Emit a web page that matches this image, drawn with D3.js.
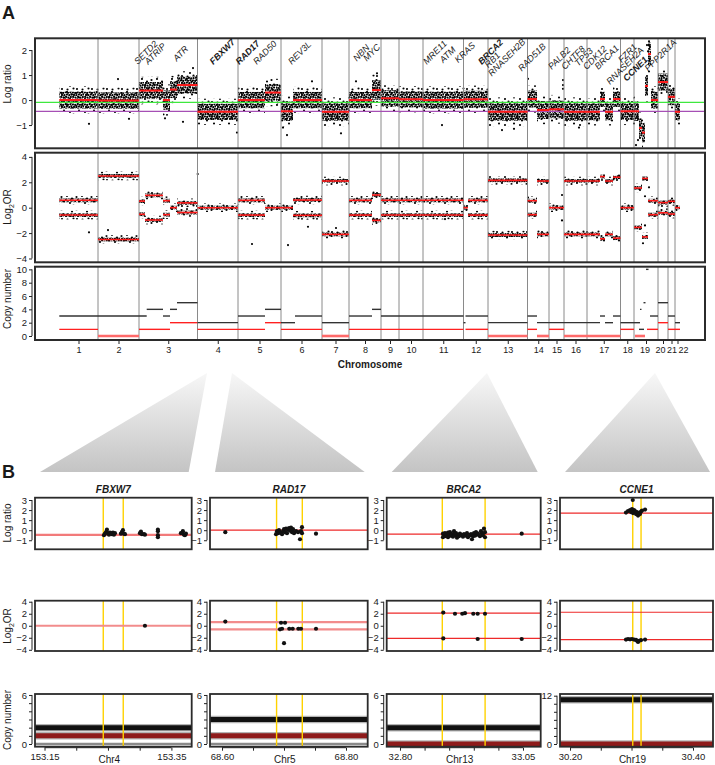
<!DOCTYPE html>
<html><head><meta charset="utf-8">
<script src="https://cdn.jsdelivr.net/npm/d3@7/dist/d3.min.js"></script>
<style>
html,body{margin:0;padding:0;background:#fff;}
text{font-family:"Liberation Sans",Arial,Helvetica,sans-serif;fill:#1a1a1a;}
</style></head><body>
<svg id="chart" width="715" height="765"></svg>
<script>
// ================= DATA =================
const chromosomes = ["1","2","3","4","5","6","7","8","9","10","11","12","13","14","15","16","17","18","19","20","21","22"];
// cumulative end of each chromosome on the genome-wide probe index axis
const chromEnds = [39,80,138.5,179,222,263,290,322,340,364,404.5,429,468.5,490,505,528,561.5,575,599,609,616,621];
const lrTicks = [-1,0,1,2];
const orTicks = [-4,-2,0,2,4];
const cnTicks = [0,2,4,6,8,10];
const lrBaseline = -0.09;   // green line
const lrLossLevel = -0.45;  // purple line
// log ratio segments: [start, end, mean, spread]
const lrSegments = [
 [0.3,39,0.0,0.22],[39,80,-0.02,0.21],
 [80,104,0.38,0.22],[104,111,0.0,0.25],[111,118,0.42,0.22],[118,138.5,0.6,0.22],
 [138.5,179,-0.47,0.21],
 [179,206,0.0,0.21],[206,222,0.3,0.22],
 [222,234,-0.45,0.25],[234,263,0.0,0.21],
 [263,290,-0.47,0.23],
 [290,313,0.0,0.21],[313,322,0.4,0.25],
 [322,340,0.07,0.21],[340,364,0.03,0.21],[364,404.5,0.0,0.22],[404.5,429,0.03,0.22],
 [429,468.5,-0.47,0.23],
 [468.5,478,0.04,0.22],[478,490,-0.4,0.23],
 [490,505,-0.37,0.23],[505,528,-0.47,0.23],
 [528,541,-0.47,0.22],[541,546,0.04,0.2],[546,554,-0.47,0.22],[554,561.5,0.04,0.2],
 [561.5,575,-0.45,0.22],
 [575,580,-0.45,0.25],[580,583,-1.12,0.25],[583,586,-1.3,0.25],[586,589,0.56,0.25],[589,592,1.84,0.3],[592,599,0.0,0.22],
 [599,609,0.72,0.22],[609,616,0.13,0.22],[616,621,-0.47,0.22]
];
const lrOutliers = [[30,-0.95],[59,0.84],[106,-0.73],[124,-0.87],[134,1.28],[178,-1.3],[228,-1.4],[224,-1.1],
 [282,-1.33],[318,1.07],[297,0.75],[383,-1.0],[469,0.85],[504,0.8],[504,0.6],[504,0.45],[577,-1.8],[579,-1.6],
 [588,2.2],[589,1.95],[590,2.35],[443,-1.2],[455,-1.15],[520,-1.1],[253,0.75],[70,-0.75]];
// log2 odds ratio segments: [start, end, |value|] (mirrored around zero)
const orSegments = [
 [0.3,39,0.58],[39,80,2.5],
 [80,86,0.52],[86,104,0.97],[104,111,0.55],[111,118,0.0],[118,138.5,0.38],
 [138.5,179,0.0],
 [179,206,0.58],[206,222,0.0],
 [222,234,0.0],[234,263,0.6],
 [263,290,2.1],
 [290,313,0.58],[313,322,1.0],
 [322,404.5,0.58],[404.5,409,0.0],[409,429,0.58],
 [429,468.5,2.15],
 [468.5,478,0.55],[478,490,2.1],
 [490,505,0.0],[505,541,2.1],[541,546,2.45],[546,554,2.1],[554,561.5,2.4],
 [561.5,575,0.0],
 [575,583,1.55],[583,589,2.3],[589,599,0.55],
 [599,609,0.4],[609,616,0.5],[616,621,0.0]
];
const orOutliers = [[30,-1.94],[49,-1.76],[138.7,2.65],[193,-2.86],[229,-2.94],[249,-1.5],[277,-1.6],[386,-0.9],
 [469,0.8],[503,1.0],[503,-1.0],[586,0.9],[586,-1.4],[584,-2.8],[590,1.6]];
// copy number segments: [start, end, copies]
const cnTotal = [[0.3,87.7,3],[87.7,104,4],[104,111,3],[111,118,4],[118,138.5,5],[138.5,179,2],
 [179,206,3],[206,222,4],[222,236,2],[236,263,3],[263,290,2],[290,313,3],[313,322,4],
 [322,404.5,3],[404.5,406.5,2],[406.5,429,3],[429,468.5,2],[468.5,478,3],[478,541,2],[541,546,3],[546,554,2],[554,561.5,3],
 [561.5,575,2],[575,581,2],[581,582.5,4],[580,585,1],[584.5,586.5,5],[587,589.5,10],[591,599,3],
 [599,609,5],[609,616,3],[616,621,2]];
const cnMinor = [[0.3,39,1],[39,80,0],[80,111,1],[111,138.5,2],[138.5,206,1],[206,222,2],[222,263,1],[263,290,0],
 [290,404.5,1],[406.5,429,1],[429,468.5,0],[468.5,478,1],[478,490,0],[490,505,1],[505,561.5,0],[561.5,575,1],
 [576,586,0],[588,599,1],[599,609,2],[609,621,1]];
// gene annotations (genome index) and emphasis
const geneNames = ["SETD2","ATRIP","ATR","FBXW7","RAD17","RAD50","REV3L","NBN","MYC","MRE11","ATM","KRAS","BRCA2","RB1","RNASEH2B","RAD51B","PALB2","CHTF8","TP53","CDK12","BRCA1","RNASEH2A","FZR1","CCNE1","PPP2R1A"];
const geneAt = [78.7,89.3,117.7,154.3,180.3,197.7,232.7,297.7,307.7,367.7,384.3,399.3,422.7,429.3,432.7,462.7,492.7,506,519.3,527.7,539.3,551,562.7,567.7,589.3];
const geneBold = ["FBXW7","RAD17","BRCA2","CCNE1"];
// ----- panel B -----
const bGenes = ["FBXW7","RAD17","BRCA2","CCNE1"];
const bChr = ["Chr4","Chr5","Chr13","Chr19"];
const bApex = [148,173,428,596];          // genome index of zoomed locus
const bXDomain = [[153.135,153.382],[68.5806,68.835],[32.773,33.086],[30.1837,30.4325]];
const bXTicks = [[153.15,153.20,153.25,153.30,153.35],[68.60,68.65,68.70,68.75,68.80],[32.80,32.85,32.90,32.95,33.00,33.05],[30.20,30.25,30.30,30.35,30.40]];
const bGeneStart = [153.2426,68.688,32.886,30.302];
const bGeneEnd = [153.2741,68.7295,32.973,30.3155];
const bSegLR = [-0.47,0.0,-0.4,1.7];
const bSegOR = [[0],[0.6,-0.6],[2.1,-2.1],[2.25,-2.3]];
const bTotalCN = [2,3,2,11];
const bMinorCN = [1,1,0,0];
const bCNMax = [6,6,6,12];
const bLR = [
 [[153.2437,-0.5],[153.2453,-0.35],[153.2469,-0.2],[153.2484,0.05],[153.25,-0.3],[153.2516,-0.45],[153.2531,-0.25],[153.2547,-0.3],[153.2563,-0.4],[153.2579,-0.25],[153.2594,-0.45],[153.261,-0.3],[153.2705,-0.35],[153.272,-0.2],[153.2736,0.0],[153.2752,-0.35],[153.2768,-0.4],[153.3004,-0.3],[153.302,-0.15],[153.3035,-0.4],[153.3067,-0.4],[153.3083,-0.45],[153.3287,-0.7],[153.3287,-0.5],[153.3287,-0.1],[153.3287,0.05],[153.365,-0.3],[153.3681,-0.1],[153.3698,-0.45],[153.3713,-0.5],[153.3729,-0.35]],
 [[68.6053,-0.2],[68.6871,-0.4],[68.6887,-0.1],[68.6903,-0.3],[68.6919,0.0],[68.6935,-0.25],[68.6968,-0.4],[68.6984,-0.1],[68.70,0.1],[68.7016,-0.2],[68.7032,0.15],[68.7048,-0.3],[68.7065,0.05],[68.7081,0.2],[68.7097,-0.05],[68.7113,0.25],[68.7129,-0.2],[68.7145,0.1],[68.7161,-0.3],[68.7194,-0.1],[68.7226,-0.2],[68.7258,-0.9],[68.7274,-0.1],[68.729,0.3],[68.729,-0.3],[68.7516,-0.35]],
 [[32.8874,-0.7],[32.8874,-0.35],[32.8894,-0.5],[32.8915,-0.3],[32.8935,-0.6],[32.8955,-0.45],[32.8976,-0.7],[32.8976,-0.25],[32.8996,-0.55],[32.9016,-0.2],[32.9037,-0.55],[32.9057,-0.4],[32.9077,-0.65],[32.9098,-0.1],[32.9098,-0.45],[32.9118,-0.5],[32.9138,-0.3],[32.9159,-0.75],[32.9179,-0.45],[32.9199,-0.6],[32.922,-0.35],[32.926,-0.5],[32.928,-0.65],[32.9301,-0.4],[32.9341,-0.55],[32.9362,-0.3],[32.9382,-0.7],[32.9423,-0.5],[32.9443,-0.4],[32.9463,-0.9],[32.9484,-0.6],[32.9504,-0.3],[32.9524,-0.55],[32.9545,-0.2],[32.9565,-0.45],[32.9585,-0.35],[32.9626,-0.6],[32.9646,-0.1],[32.9667,-0.3],[32.9687,-0.5],[32.9707,0.15],[32.9728,-0.7],[32.9728,-0.2],[33.0474,-0.35]],
 [[30.302,3.0],[30.291,1.75],[30.2943,1.9],[30.2976,2.0],[30.2992,1.8],[30.3008,2.1],[30.3024,1.7],[30.3041,2.0],[30.3057,1.9],[30.3073,1.6],[30.3089,1.8],[30.3106,1.45],[30.3122,1.7],[30.3138,1.6],[30.3154,1.85],[30.3171,1.95],[30.322,2.05]]
];
const bOR = [
 [[153.3083,0.0]],
 [[68.6053,0.7],[68.6935,-0.6],[68.6952,0.5],[68.6968,-0.5],[68.7016,0.5],[68.70,-2.9],[68.7085,-0.5],[68.714,-0.5],[68.7231,-0.5],[68.7274,-0.5],[68.7516,-0.5]],
 [[32.888,2.2],[32.9118,2.0],[32.9266,2.0],[32.9321,2.1],[32.949,2.0],[32.9579,2.0],[32.9728,2.0],[32.888,-2.1],[32.9579,-2.2],[33.0474,-2.2]],
 [[30.291,-2.3],[30.2943,-2.2],[30.2976,-2.25],[30.3008,-2.2],[30.3041,-2.3],[30.3073,-2.35],[30.3089,-2.5],[30.3106,-2.7],[30.3122,-2.5],[30.3154,-2.4],[30.322,-2.3]]
];

// ================= DRAWING =================
const svg = d3.select("#chart");
const defs = svg.append("defs");
// dot textures used to render dense probe clouds (style only)
const pc = defs.append("pattern").attr("id","cloudCore").attr("width",12).attr("height",12).attr("patternUnits","userSpaceOnUse");
[[1.2,1.0],[3.5,1.6],[6.1,0.9],[8.4,1.7],[10.8,1.1],[0.6,3.6],[2.9,4.1],[5.3,3.3],[7.6,4.0],[10.1,3.5],
 [1.5,6.2],[4.0,5.8],[6.4,6.5],[8.9,5.9],[11.2,6.4],[0.9,8.5],[3.2,8.9],[5.7,8.2],[8.0,8.8],[10.4,8.3],
 [2.0,10.9],[4.4,11.2],[6.9,10.6],[9.3,11.1],[11.5,10.4]]
 .forEach(([cx,cy])=>pc.append("circle").attr("cx",cx).attr("cy",cy).attr("r",1.12).attr("fill","#000"));
const pf = defs.append("pattern").attr("id","cloudFringe").attr("width",15).attr("height",13).attr("patternUnits","userSpaceOnUse");
[[1.5,2],[7,1],[12,3.5],[4,6.5],[10,8],[2,11],[7.5,11.5],[13.5,10.5]]
 .forEach(([cx,cy])=>pf.append("circle").attr("cx",cx).attr("cy",cy).attr("r",1.05).attr("fill","#000"));
const grad = defs.append("linearGradient").attr("id","triGrad").attr("x1",0).attr("y1",0).attr("x2",0).attr("y2",1);
grad.append("stop").attr("offset","0%").attr("stop-color","#f7f7f7");
grad.append("stop").attr("offset","100%").attr("stop-color","#c4c4c4");

const FONT = '"Liberation Sans",Arial,Helvetica,sans-serif';
const PX0 = 35, PX1 = 705;
const x = d3.scaleLinear().domain([-24,646]).range([PX0,PX1]);
const pLR = {y0:38.3,y1:148.3}, pOR = {y0:152.7,y1:262.3}, pCN = {y0:266.7,y1:340};
const yLR = d3.scaleLinear().domain([-1.93,2.47]).range([pLR.y1,pLR.y0]);
const yOR = d3.scaleLinear().domain([-4.3,4.33]).range([pOR.y1,pOR.y0]);
const yCN = d3.scaleLinear().domain([-0.6,10.4]).range([pCN.y1,pCN.y0]);
const fmt = d3.format("d");

function clip(id,x0,y0,x1,y1){
  defs.append("clipPath").attr("id",id).append("rect").attr("x",x0).attr("y",y0).attr("width",x1-x0).attr("height",y1-y0);
  return "url(#"+id+")";
}
function leftAxis(scale, ticks, ax, labelFn){
  const g = svg.append("g").attr("transform",`translate(${ax},0)`);
  g.call(d3.axisLeft(scale).tickValues(ticks).tickSize(3).tickPadding(2).tickFormat(labelFn));
  g.select(".domain").attr("d",`M0,${scale(ticks[0])}V${scale(ticks[ticks.length-1])}`).attr("stroke","#222");
  g.selectAll(".tick line").attr("stroke","#222");
  g.selectAll("text").attr("font-family",FONT).attr("font-size",9.5).attr("fill","#222");
  return g;
}
function yTitle(txt, cy, sub){
  const t = svg.append("text").attr("transform",`translate(11,${cy}) rotate(-90)`).attr("text-anchor","middle")
    .attr("font-size",10);
  if(sub){
    t.append("tspan").text("Log");
    t.append("tspan").attr("font-size",7).attr("dy",2.5).text("2");
    t.append("tspan").attr("dy",-2.5).text("OR");
  } else t.text(txt);
}
function frame(x0,y0,x1,y1,w){
  svg.append("rect").attr("x",x0).attr("y",y0).attr("width",x1-x0).attr("height",y1-y0)
    .attr("fill","none").attr("stroke","#2b2b2b").attr("stroke-width",w||2);
}
function chromLines(p){
  svg.append("g").selectAll("line").data(chromEnds.slice(0,-1)).join("line")
    .attr("x1",d=>x(d)).attr("x2",d=>x(d)).attr("y1",p.y0).attr("y2",p.y1)
    .attr("stroke","#8a8a8a").attr("stroke-width",1);
}

svg.append("text").attr("x",2).attr("y",19).attr("font-size",18).attr("font-weight","bold").text("A");

// ---- Log ratio panel ----
const gLR = svg.append("g").attr("clip-path",clip("cLR",PX0,pLR.y0,PX1,pLR.y1));
gLR.selectAll("rect.f").data(lrSegments).join("rect").attr("class","f")
  .attr("x",d=>x(d[0])).attr("width",d=>x(d[1])-x(d[0]))
  .attr("y",d=>yLR(d[2]+2.5*d[3])).attr("height",d=>yLR(d[2]-2.5*d[3])-yLR(d[2]+2.5*d[3]))
  .attr("fill","url(#cloudFringe)");
gLR.selectAll("rect.c").data(lrSegments).join("rect").attr("class","c")
  .attr("x",d=>x(d[0])).attr("width",d=>x(d[1])-x(d[0]))
  .attr("y",d=>yLR(d[2]+1.55*d[3])).attr("height",d=>yLR(d[2]-1.55*d[3])-yLR(d[2]+1.55*d[3]))
  .attr("fill","url(#cloudCore)");
gLR.selectAll("circle").data(lrOutliers).join("circle").attr("cx",d=>x(d[0])).attr("cy",d=>yLR(d[1])).attr("r",1.1).attr("fill","#000");
chromLines(pLR);
svg.append("line").attr("x1",PX0).attr("x2",PX1).attr("y1",yLR(lrBaseline)).attr("y2",yLR(lrBaseline)).attr("stroke","#3ee83e").attr("stroke-width",1.3);
svg.append("line").attr("x1",PX0).attr("x2",PX1).attr("y1",yLR(lrLossLevel)).attr("y2",yLR(lrLossLevel)).attr("stroke","#a64fb5").attr("stroke-width",1.3);
svg.append("g").selectAll("line").data(lrSegments).join("line")
  .attr("x1",d=>x(d[0])).attr("x2",d=>x(d[1])).attr("y1",d=>yLR(d[2])).attr("y2",d=>yLR(d[2]))
  .attr("stroke","#ff1a1a").attr("stroke-width",2);
frame(PX0,pLR.y0,PX1,pLR.y1);
leftAxis(yLR,lrTicks,32,fmt);
yTitle("Log ratio",84);
// gene labels
svg.append("g").selectAll("text").data(geneNames).join("text")
  .attr("transform",(d,i)=>{
    const drop = {RB1:3.3,RNASEH2B:11.7,RAD51B:6.7,PALB2:5,CHTF8:5,TP53:1.7,CDK12:5,BRCA1:5,RNASEH2A:20,CCNE1:16.7,PPP2R1A:6.7,ATR:-3.3,NBN:-3.3,MYC:-3.3,ATM:-1.7,KRAS:-1.7,FZR1:-1.7}[d]||0;
    return `translate(${x(geneAt[i])},${65+drop}) rotate(-45)`;
  })
  .attr("font-size",9).attr("font-style","italic")
  .attr("font-weight",d=>geneBold.includes(d)?"bold":"normal").attr("fill","#111").text(d=>d);

// ---- Log2 OR panel ----
const orBands = [];
orSegments.forEach(s=>{ if(s[2]===0) orBands.push([s[0],s[1],0]); else { orBands.push([s[0],s[1],s[2]]); orBands.push([s[0],s[1],-s[2]]);} });
const gOR = svg.append("g").attr("clip-path",clip("cOR",PX0,pOR.y0,PX1,pOR.y1));
gOR.selectAll("rect.f").data(orBands).join("rect").attr("class","f")
  .attr("x",d=>x(d[0])).attr("width",d=>x(d[1])-x(d[0]))
  .attr("y",d=>yOR(d[2]+0.34)).attr("height",d=>yOR(d[2]-0.34)-yOR(d[2]+0.34)).attr("fill","url(#cloudFringe)");
gOR.selectAll("rect.c").data(orBands).join("rect").attr("class","c")
  .attr("x",d=>x(d[0])).attr("width",d=>x(d[1])-x(d[0]))
  .attr("y",d=>yOR(d[2]+0.15)).attr("height",d=>yOR(d[2]-0.15)-yOR(d[2]+0.15)).attr("fill","url(#cloudCore)");
gOR.selectAll("circle").data(orOutliers).join("circle").attr("cx",d=>x(d[0])).attr("cy",d=>yOR(d[1])).attr("r",1.1).attr("fill","#000");
chromLines(pOR);
svg.append("g").selectAll("line").data(orBands).join("line")
  .attr("x1",d=>x(d[0])).attr("x2",d=>x(d[1])).attr("y1",d=>yOR(d[2])).attr("y2",d=>yOR(d[2]))
  .attr("stroke","#ff1a1a").attr("stroke-width",1.6);
frame(PX0,pOR.y0,PX1,pOR.y1);
leftAxis(yOR,orTicks,32,fmt);
yTitle("",207,true);

// ---- Copy number panel ----
chromLines(pCN);
svg.append("g").selectAll("line").data(cnMinor).join("line")
  .attr("x1",d=>x(d[0])).attr("x2",d=>x(d[1])).attr("y1",d=>yCN(d[2])).attr("y2",d=>yCN(d[2]))
  .attr("stroke",d=>d[2]===0?"#ff6a6a":"#ff2020").attr("stroke-width",d=>d[2]===0?2.6:1.4);
svg.append("g").selectAll("line").data(cnTotal).join("line")
  .attr("x1",d=>x(d[0])).attr("x2",d=>x(d[1])).attr("y1",d=>yCN(d[2])).attr("y2",d=>yCN(d[2]))
  .attr("stroke","#333").attr("stroke-width",1.4);
frame(PX0,pCN.y0,PX1,pCN.y1);
leftAxis(yCN,cnTicks,32,fmt);
yTitle("Copy number",299);

// chromosome axis
const chromCenters = chromEnds.map((e,i)=>(e+(i?chromEnds[i-1]:0))/2);
const labelShift = {"19":-1.5,"20":-3,"21":0,"22":5.5};
const xa = svg.append("g").attr("transform",`translate(0,${pCN.y1+1})`);
xa.call(d3.axisBottom(x).tickValues(chromCenters).tickSize(3).tickPadding(3).tickFormat((d,i)=>chromosomes[i]));
xa.select(".domain").remove();
xa.selectAll("line").attr("stroke","#222");
xa.selectAll("text").attr("font-family",FONT).attr("font-size",9).attr("fill","#222")
  .attr("dx",(d,i)=>labelShift[chromosomes[i]]||0);
svg.append("text").attr("x",370).attr("y",368).attr("text-anchor","middle").attr("font-size",10).attr("font-weight","bold").text("Chromosome");

// ================= PANEL B =================
const bCols = [[35,191.7],[210,367.7],[386.7,540.7],[560,713]];
const r1 = {y0:497.7,y1:549.3}, r2 = {y0:600.7,y1:651}, r3 = {y0:694,y1:746.7};
// zoom triangles
svg.append("g").selectAll("path").data(bApex).join("path")
  .attr("d",(d,i)=>`M${x(d)},373L${bCols[i][0]+5},472L${bCols[i][1]-3},472Z`)
  .attr("fill","url(#triGrad)");
svg.append("text").attr("x",2).attr("y",478).attr("font-size",18).attr("font-weight","bold").text("B");
yTitle("Log ratio",523);
yTitle("",626,true);
yTitle("Copy number",720);

bGenes.forEach((gene,i)=>{
  const [c0,c1] = bCols[i];
  const xs = d3.scaleLinear().domain(bXDomain[i]).range([c0,c1]);
  const y1s = d3.scaleLinear().domain([-1.9,3.23]).range([r1.y1,r1.y0]);
  const y2s = d3.scaleLinear().domain([-4.2,4.17]).range([r2.y1,r2.y0]);
  const top = bCNMax[i]===12 ? 12.42 : 6.12, bot = bCNMax[i]===12 ? -0.67 : -0.33;
  const y3s = d3.scaleLinear().domain([bot,top]).range([r3.y1,r3.y0]);
  svg.append("text").attr("x",(c0+c1)/2).attr("y",493).attr("text-anchor","middle").attr("font-size",10)
    .attr("font-weight","bold").attr("font-style","italic").text(gene);
  const yl = (g,r)=>{ [bGeneStart[i],bGeneEnd[i]].forEach(v=>g.append("line").attr("x1",xs(v)).attr("x2",xs(v)).attr("y1",r.y0).attr("y2",r.y1).attr("stroke","#ffd200").attr("stroke-width",1.4)); };
  // row 1
  const g1 = svg.append("g").attr("clip-path",clip("b1"+i,c0,r1.y0,c1,r1.y1));
  yl(g1,r1);
  g1.append("line").attr("x1",c0).attr("x2",c1).attr("y1",y1s(bSegLR[i])).attr("y2",y1s(bSegLR[i]))
    .attr("stroke",i===0?"#f27a7a":"#ee2a2a").attr("stroke-width",i===0?2.2:1.2);
  g1.selectAll("circle").data(bLR[i]).join("circle").attr("cx",d=>xs(d[0])).attr("cy",d=>y1s(d[1])).attr("r",2.1).attr("fill","#111");
  frame(c0,r1.y0,c1,r1.y1,1.8);
  leftAxis(y1s,[-1,0,1,2,3],c0-3,fmt);
  // row 2
  const g2 = svg.append("g").attr("clip-path",clip("b2"+i,c0,r2.y0,c1,r2.y1));
  yl(g2,r2);
  g2.selectAll("line.s").data(bSegOR[i]).join("line").attr("class","s").attr("x1",c0).attr("x2",c1)
    .attr("y1",d=>y2s(d)).attr("y2",d=>y2s(d))
    .attr("stroke",i<2?"#f28c8c":"#ee2a2a").attr("stroke-width",i<2?2.2:1.2);
  g2.selectAll("circle").data(bOR[i]).join("circle").attr("cx",d=>xs(d[0])).attr("cy",d=>y2s(d[1])).attr("r",2.1).attr("fill","#111");
  frame(c0,r2.y0,c1,r2.y1,1.8);
  leftAxis(y2s,[-4,-2,0,2,4],c0-3,fmt);
  // row 3
  const g3 = svg.append("g").attr("clip-path",clip("b3"+i,c0,r3.y0,c1,r3.y1));
  g3.append("line").attr("x1",c0).attr("x2",c1).attr("y1",y3s(0)).attr("y2",y3s(0)).attr("stroke","#8a8a8a").attr("stroke-width",2.5);
  [[bTotalCN[i],"#111"],[bMinorCN[i],"#8e1b1b"]].forEach(([v,col])=>{
    g3.append("line").attr("x1",c0).attr("x2",c1).attr("y1",y3s(v)).attr("y2",y3s(v)).attr("stroke","#b4b4b4").attr("stroke-width",7.5);
    g3.append("line").attr("x1",c0).attr("x2",c1).attr("y1",y3s(v)).attr("y2",y3s(v)).attr("stroke",col).attr("stroke-width",5);
  });
  yl(g3,r3);
  frame(c0,r3.y0,c1,r3.y1,1.8);
  const cnT = bCNMax[i]===12 ? [0,2,4,6,8,10,12] : [0,1,2,3,4,5,6];
  leftAxis(y3s,cnT,c0-3,d=>(d===0||d===bCNMax[i])?fmt(d):"");
  const xb = svg.append("g").attr("transform",`translate(0,${r3.y1+1})`);
  xb.call(d3.axisBottom(xs).tickValues(bXTicks[i]).tickSize(3).tickPadding(3)
    .tickFormat((d,k)=>(k===0||k===bXTicks[i].length-1)?d3.format(".2f")(d):""));
  xb.select(".domain").attr("d",`M${xs(bXTicks[i][0])},0H${xs(bXTicks[i][bXTicks[i].length-1])}`).attr("stroke","#222");
  xb.selectAll("line").attr("stroke","#222");
  xb.selectAll("text").attr("font-family",FONT).attr("font-size",9.5).attr("fill","#222");
  svg.append("text").attr("x",(c0+c1)/2-4).attr("y",763).attr("text-anchor","middle").attr("font-size",10).text(bChr[i]);
});
</script></body></html>
